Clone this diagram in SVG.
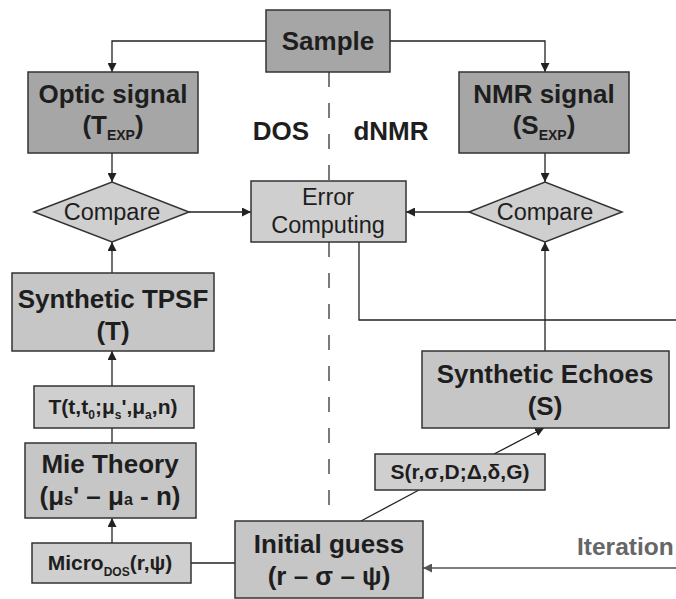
<svg xmlns="http://www.w3.org/2000/svg" width="676" height="599" viewBox="0 0 676 599">
<defs>
<style>
.dk{fill:#a6a6a6;stroke:#333;stroke-width:1.5}
.md{fill:#c6c6c6;stroke:#333;stroke-width:1.5}
.lt{fill:#cfcfcf;stroke:#333;stroke-width:1.5}
.b{font-family:"Liberation Sans",Arial,sans-serif;font-weight:bold;fill:#1e1e1e;text-anchor:middle}
.r{font-family:"Liberation Sans",Arial,sans-serif;fill:#1e1e1e;text-anchor:middle}
.big{font-size:26px}
.med{font-size:23.5px}
.sm{font-size:21px}
.ln{fill:none;stroke:#222;stroke-width:1.3}
</style>
<marker id="ah" viewBox="0 0 10 10" refX="10" refY="5" markerWidth="9" markerHeight="9" markerUnits="userSpaceOnUse" orient="auto"><path d="M0,0L10,5L0,10z" fill="#222"/></marker>
<marker id="ahg" viewBox="0 0 10 10" refX="10" refY="5" markerWidth="9" markerHeight="9" markerUnits="userSpaceOnUse" orient="auto"><path d="M0,0L10,5L0,10z" fill="#555"/></marker>
</defs>
<rect width="676" height="599" fill="#fff"/>
<g id="connectors">
<line x1="329" y1="72" x2="329" y2="181" stroke="#222" stroke-width="1.2" stroke-dasharray="15 16"/>
<line x1="329" y1="242" x2="329" y2="521" stroke="#222" stroke-width="1.2" stroke-dasharray="15 16"/>
<polyline class="ln" points="266,41 112,41 112,72" marker-end="url(#ah)"/>
<polyline class="ln" points="390,41 545,41 545,72" marker-end="url(#ah)"/>
<line class="ln" x1="112" y1="153" x2="112" y2="182" marker-end="url(#ah)"/>
<line class="ln" x1="545" y1="153" x2="545" y2="182" marker-end="url(#ah)"/>
<line class="ln" x1="189" y1="212" x2="251" y2="212" marker-end="url(#ah)"/>
<line class="ln" x1="469" y1="212" x2="406" y2="212" marker-end="url(#ah)"/>
<line class="ln" x1="112" y1="273" x2="112" y2="242" marker-end="url(#ah)"/>
<line class="ln" x1="545" y1="351" x2="545" y2="242" marker-end="url(#ah)"/>
<polyline class="ln" points="359,242 359,320 676,320"/>
<line class="ln" x1="112" y1="386" x2="112" y2="351" marker-end="url(#ah)"/>
<line class="ln" x1="112" y1="443" x2="112" y2="428"/>
<line class="ln" x1="112" y1="543" x2="112" y2="518" marker-end="url(#ah)"/>
<line class="ln" x1="191" y1="563" x2="235" y2="563"/>
<line class="ln" x1="361" y1="521" x2="419" y2="490"/>
<line class="ln" x1="494" y1="454" x2="544" y2="428" marker-end="url(#ah)"/>
<line x1="676" y1="568" x2="423" y2="568" stroke="#555" stroke-width="1.3" marker-end="url(#ahg)"/>
</g>
<g id="sample"><rect class="dk" x="266" y="10" width="124" height="62"/><text class="b big" x="328" y="50">Sample</text></g>
<g id="optic"><rect class="dk" x="28" y="72" width="170" height="81"/><text class="b big" x="113" y="103">Optic signal</text><text class="b big" x="113" y="134">(T<tspan font-size="14" dy="6">EXP</tspan><tspan dy="-6">)</tspan></text></g>
<g id="nmr"><rect class="dk" x="459" y="72" width="170" height="81"/><text class="b big" x="544" y="103">NMR signal</text><text class="b big" x="544" y="134">(S<tspan font-size="14" dy="6">EXP</tspan><tspan dy="-6">)</tspan></text></g>
<g id="labels"><text class="b big" x="281" y="140">DOS</text><text class="b big" x="391" y="140">dNMR</text></g>
<g id="compare-left"><polygon class="lt" points="34,212 112,182 189,212 112,242"/><text class="r med" x="112" y="220">Compare</text></g>
<g id="compare-right"><polygon class="lt" points="469,212 545,182 622,212 545,242"/><text class="r med" x="545" y="220">Compare</text></g>
<g id="error"><rect class="lt" x="251" y="181" width="155" height="61"/><text class="r med" x="328" y="205">Error</text><text class="r med" x="328" y="233">Computing</text></g>
<g id="tpsf"><rect class="md" x="12" y="273" width="202" height="78"/><text class="b big" x="113" y="308">Synthetic TPSF</text><text class="b big" x="113" y="340">(T)</text></g>
<g id="tfunc"><rect class="lt" x="34" y="386" width="160" height="42"/><text class="b sm" x="113" y="414">T(t,t<tspan font-size="12" dy="5">0</tspan><tspan dy="-5">;μ</tspan><tspan font-size="12" dy="5">s</tspan><tspan dy="-5">',μ</tspan><tspan font-size="12" dy="5">a</tspan><tspan dy="-5">,n)</tspan></text></g>
<g id="mie"><rect class="md" x="25" y="443" width="171" height="75"/><text class="b big" x="110" y="473">Mie Theory</text><text class="b big" x="110" y="505">(μ<tspan font-size="16">s</tspan>' – μ<tspan font-size="16">a</tspan> - n)</text></g>
<g id="micro"><rect class="lt" x="32" y="543" width="159" height="40"/><text class="b sm" x="110" y="570">Micro<tspan font-size="12" dy="6">DOS</tspan><tspan dy="-6">(r,ψ)</tspan></text></g>
<g id="initial"><rect class="md" x="235" y="521" width="188" height="77"/><text class="b big" x="329" y="553">Initial guess</text><text class="b big" x="329" y="585">(r – σ – ψ)</text></g>
<g id="echoes"><rect class="md" x="422" y="351" width="247" height="77"/><text class="b big" x="545" y="383">Synthetic Echoes</text><text class="b big" x="545" y="415">(S)</text></g>
<g id="sfunc"><rect class="lt" x="375" y="454" width="170" height="36"/><text class="b sm" x="460" y="479">S(r,σ,D;Δ,δ,G)</text></g>
<g id="iteration"><text x="577" y="555" font-family="Liberation Sans,Arial,sans-serif" font-weight="bold" font-size="24.5" fill="#666">Iteration</text></g>
</svg>
